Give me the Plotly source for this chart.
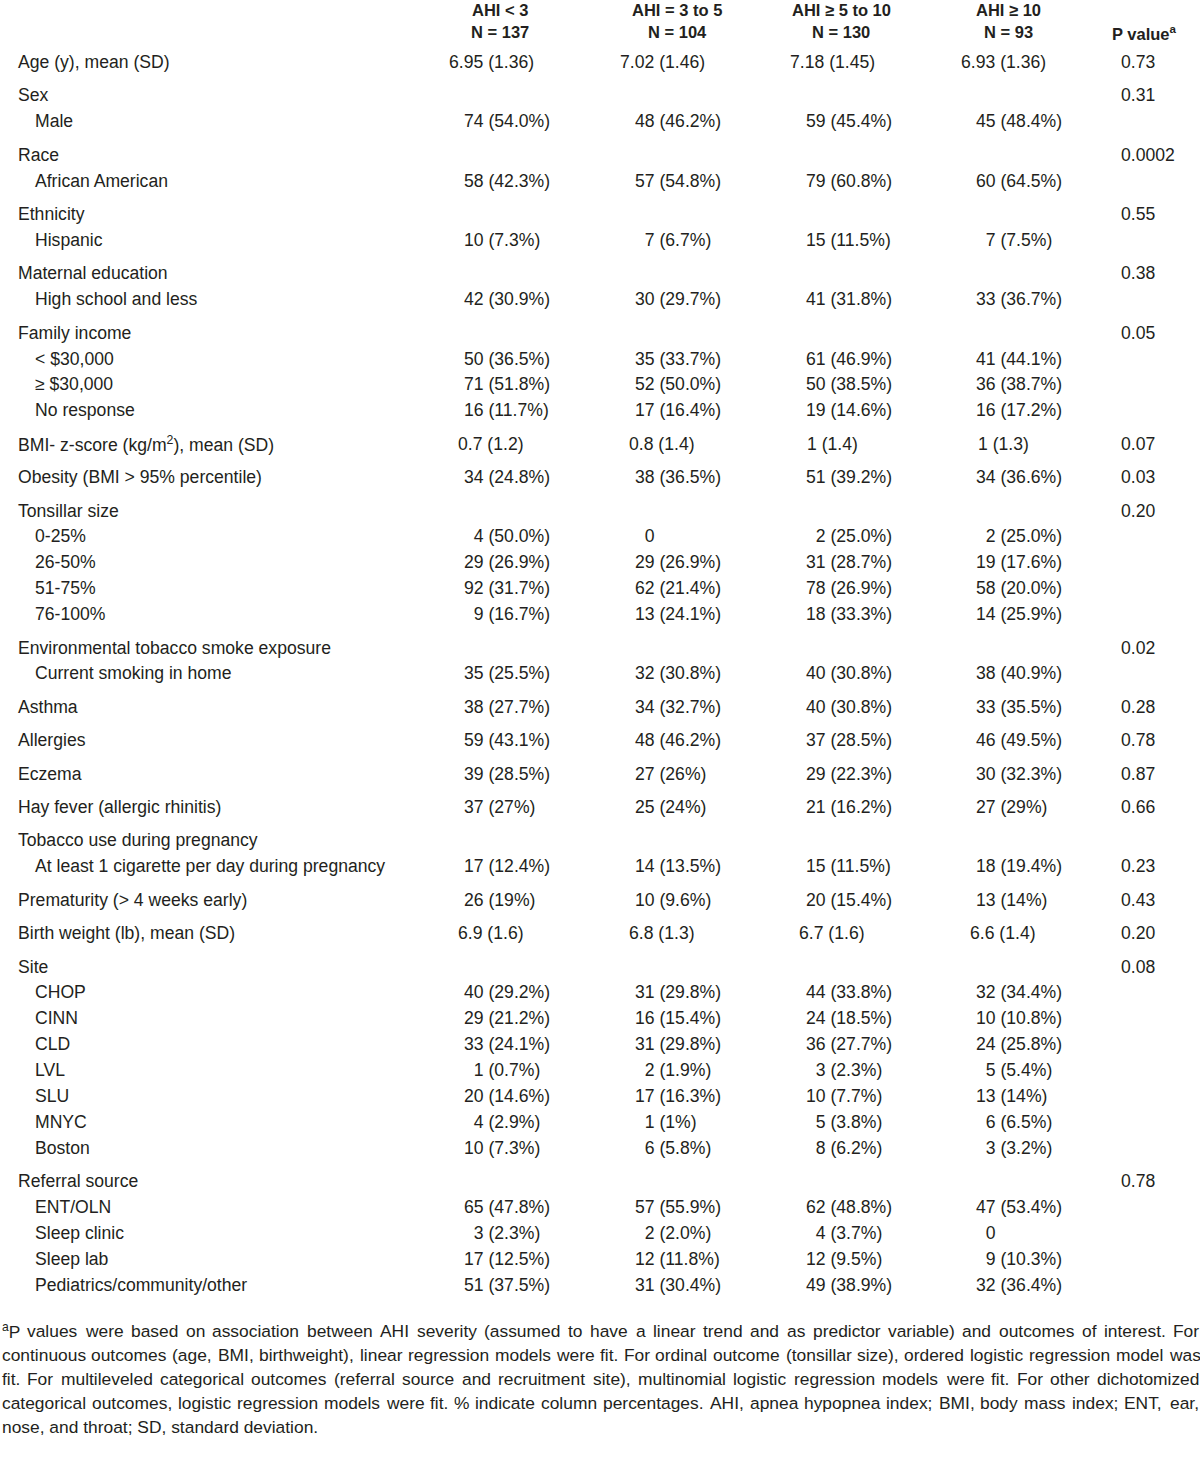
import plotly.graph_objects as go

# ---------------- data ----------------
headers_top = ["AHI < 3", "AHI = 3 to 5", "AHI ≥ 5 to 10", "AHI ≥ 10"]
headers_n = ["N = 137", "N = 104", "N = 130", "N = 93"]
pvalue_header = "P value<sup>a</sup>"

labels = [
    "Age (y), mean (SD)", "Sex", "Male", "Race", "African American",
    "Ethnicity", "Hispanic", "Maternal education", "High school and less",
    "Family income", "< $30,000", "≥ $30,000", "No response",
    "BMI- z-score (kg/m<sup>2</sup>), mean (SD)", "Obesity (BMI > 95% percentile)",
    "Tonsillar size", "0-25%", "26-50%", "51-75%", "76-100%",
    "Environmental tobacco smoke exposure", "Current smoking in home",
    "Asthma", "Allergies", "Eczema", "Hay fever (allergic rhinitis)",
    "Tobacco use during pregnancy", "At least 1 cigarette per day during pregnancy",
    "Prematurity (> 4 weeks early)", "Birth weight (lb), mean (SD)",
    "Site", "CHOP", "CINN", "CLD", "LVL", "SLU", "MNYC", "Boston",
    "Referral source", "ENT/OLN", "Sleep clinic", "Sleep lab",
    "Pediatrics/community/other",
]
level = [0, 0, 1, 0, 1, 0, 1, 0, 1, 0, 1, 1, 1, 0, 0, 0, 1, 1, 1, 1, 0, 1,
         0, 0, 0, 0, 0, 1, 0, 0, 0, 1, 1, 1, 1, 1, 1, 1, 0, 1, 1, 1, 1]
is_mean = [True] + [False] * 12 + [True] + [False] * 15 + [True] + [False] * 13

ahi_lt3 = ["6.95 (1.36)", "", "74 (54.0%)", "", "58 (42.3%)", "", "10 (7.3%)", "",
           "42 (30.9%)", "", "50 (36.5%)", "71 (51.8%)", "16 (11.7%)", "0.7 (1.2)",
           "34 (24.8%)", "", "4 (50.0%)", "29 (26.9%)", "92 (31.7%)", "9 (16.7%)", "",
           "35 (25.5%)", "38 (27.7%)", "59 (43.1%)", "39 (28.5%)", "37 (27%)", "",
           "17 (12.4%)", "26 (19%)", "6.9 (1.6)", "", "40 (29.2%)", "29 (21.2%)",
           "33 (24.1%)", "1 (0.7%)", "20 (14.6%)", "4 (2.9%)", "10 (7.3%)", "",
           "65 (47.8%)", "3 (2.3%)", "17 (12.5%)", "51 (37.5%)"]
ahi_3to5 = ["7.02 (1.46)", "", "48 (46.2%)", "", "57 (54.8%)", "", "7 (6.7%)", "",
            "30 (29.7%)", "", "35 (33.7%)", "52 (50.0%)", "17 (16.4%)", "0.8 (1.4)",
            "38 (36.5%)", "", "0", "29 (26.9%)", "62 (21.4%)", "13 (24.1%)", "",
            "32 (30.8%)", "34 (32.7%)", "48 (46.2%)", "27 (26%)", "25 (24%)", "",
            "14 (13.5%)", "10 (9.6%)", "6.8 (1.3)", "", "31 (29.8%)", "16 (15.4%)",
            "31 (29.8%)", "2 (1.9%)", "17 (16.3%)", "1 (1%)", "6 (5.8%)", "",
            "57 (55.9%)", "2 (2.0%)", "12 (11.8%)", "31 (30.4%)"]
ahi_5to10 = ["7.18 (1.45)", "", "59 (45.4%)", "", "79 (60.8%)", "", "15 (11.5%)", "",
             "41 (31.8%)", "", "61 (46.9%)", "50 (38.5%)", "19 (14.6%)", "1 (1.4)",
             "51 (39.2%)", "", "2 (25.0%)", "31 (28.7%)", "78 (26.9%)", "18 (33.3%)", "",
             "40 (30.8%)", "40 (30.8%)", "37 (28.5%)", "29 (22.3%)", "21 (16.2%)", "",
             "15 (11.5%)", "20 (15.4%)", "6.7 (1.6)", "", "44 (33.8%)", "24 (18.5%)",
             "36 (27.7%)", "3 (2.3%)", "10 (7.7%)", "5 (3.8%)", "8 (6.2%)", "",
             "62 (48.8%)", "4 (3.7%)", "12 (9.5%)", "49 (38.9%)"]
ahi_ge10 = ["6.93 (1.36)", "", "45 (48.4%)", "", "60 (64.5%)", "", "7 (7.5%)", "",
            "33 (36.7%)", "", "41 (44.1%)", "36 (38.7%)", "16 (17.2%)", "1 (1.3)",
            "34 (36.6%)", "", "2 (25.0%)", "19 (17.6%)", "58 (20.0%)", "14 (25.9%)", "",
            "38 (40.9%)", "33 (35.5%)", "46 (49.5%)", "30 (32.3%)", "27 (29%)", "",
            "18 (19.4%)", "13 (14%)", "6.6 (1.4)", "", "32 (34.4%)", "10 (10.8%)",
            "24 (25.8%)", "5 (5.4%)", "13 (14%)", "6 (6.5%)", "3 (3.2%)", "",
            "47 (53.4%)", "0", "9 (10.3%)", "32 (36.4%)"]
p_values = ["0.73", "0.31", "", "0.0002", "", "0.55", "", "0.38", "", "0.05", "", "", "",
            "0.07", "0.03", "0.20", "", "", "", "", "0.02", "", "0.28", "0.78", "0.87",
            "0.66", "", "0.23", "0.43", "0.20", "0.08", "", "", "", "", "", "", "", "0.78",
            "", "", "", ""]

footnote_lines = [
    "<sup>a</sup>P values were based on association between AHI severity (assumed to have a linear trend and as predictor variable) and outcomes of interest. For",
    "continuous outcomes (age, BMI, birthweight), linear regression models were fit. For ordinal outcome (tonsillar size), ordered logistic regression model was",
    "fit. For multileveled categorical outcomes (referral source and recruitment site), multinomial logistic regression models were fit. For other dichotomized",
    "categorical outcomes, logistic regression models were fit. % indicate column percentages. AHI, apnea hypopnea index; BMI, body mass index; ENT, ear,",
    "nose, and throat; SD, standard deviation.",
]

# ---------------- layout ----------------
W, H = 1200, 1457
FONT = "Liberation Sans Narrow, Arial Narrow, Liberation Sans, Arial, sans-serif"
COLOR = "#231f20"
FS = 17.6
FS_HEAD = 16.5
FS_NOTE = 17.4

col_left = [463, 634, 805, 975]
col_center = [491, 662, 832, 1003]
head_center = [500, 677, 841, 1008]
p_left = 1120
p_head_center = 1144

y_first = 62
step_sub = 25.9
step_group = 33.4

ys = []
y = y_first
for i, lv in enumerate(level):
    if i > 0:
        y += step_group if lv == 0 else step_sub
    ys.append(y)

ann = []


def add(text, x, y, xanchor="left", bold=False, size=FS):
    ann.append(dict(
        text=f"<b>{text}</b>" if bold else text, x=x, y=y, xref="x", yref="y",
        xanchor=xanchor, yanchor="middle", showarrow=False, borderpad=0,
        font=dict(family=FONT, size=size, color=COLOR),
    ))


for i in range(4):
    add(headers_top[i], head_center[i], 10, "center", bold=True, size=FS_HEAD)
    add(headers_n[i], head_center[i], 32, "center", bold=True, size=FS_HEAD)
add(pvalue_header, p_head_center, 33, "center", bold=True, size=FS_HEAD)


def pad(s):
    # keep single-digit counts aligned with two-digit counts (figure space)
    head = s.split(" ")[0]
    if len(head) == 1:
        return "\u2007" + s
    return s


columns = [ahi_lt3, ahi_3to5, ahi_5to10, ahi_ge10]
for r, lab in enumerate(labels):
    yy = ys[r]
    add(lab, 17 if level[r] == 0 else 34, yy)
    for c, col in enumerate(columns):
        v = col[r]
        if not v:
            continue
        if is_mean[r]:
            add(v, col_center[c], yy, "center")
        else:
            add(pad(v), col_left[c], yy, "left")
    if p_values[r]:
        add(p_values[r], p_left, yy, "left")

# ---- justified footnote (Arial / Liberation Sans advance widths, per 1000 em)
_w = {" ": 278, "(": 333, ")": 333, ",": 278, "-": 333, ".": 278, "/": 278,
      ";": 278, "%": 889, ":": 278}
for ch in "0123456789":
    _w[ch] = 556
for ch, v in zip("ABCDEFGHIJKLMNOPQRSTUVWXYZ",
                 [667, 667, 722, 722, 667, 611, 778, 722, 278, 500, 667, 556, 833,
                  722, 778, 667, 778, 722, 667, 611, 722, 667, 944, 667, 667, 611]):
    _w[ch] = v
for ch, v in zip("abcdefghijklmnopqrstuvwxyz",
                 [556, 556, 500, 556, 556, 278, 556, 556, 222, 222, 500, 222, 833,
                  556, 556, 556, 556, 333, 500, 278, 556, 500, 722, 500, 500, 500]):
    _w[ch] = v


def text_width(word, size):
    total = 0.0
    sup = False
    i = 0
    while i < len(word):
        if word.startswith("<sup>", i):
            sup = True
            i += 5
            continue
        if word.startswith("</sup>", i):
            sup = False
            i += 6
            continue
        total += _w.get(word[i], 556) * (0.7 if sup else 1.0)
        i += 1
    return total * size / 1000.0


note_left, note_right = 0.5, 1198.5
fy = ys[-1] + 46
for k, line in enumerate(footnote_lines):
    yy = fy + k * 24
    if k == len(footnote_lines) - 1:
        add(line, note_left, yy, "left", size=FS_NOTE)
        continue
    words = line.split(" ")
    widths = [text_width(wd, FS_NOTE) for wd in words]
    gap = (note_right - note_left - sum(widths)) / (len(words) - 1)
    x = note_left
    for wd, wdt in zip(words, widths):
        add(wd, x, yy, "left", size=FS_NOTE)
        x += wdt + gap

fig = go.Figure()
fig.update_layout(
    width=W, height=H, margin=dict(l=0, r=0, t=0, b=0),
    paper_bgcolor="white", plot_bgcolor="white",
    xaxis=dict(range=[0, W], visible=False, fixedrange=True),
    yaxis=dict(range=[H, 0], visible=False, fixedrange=True),
    annotations=ann, showlegend=False,
)
fig.write_html(
    "out.html",
    config={"displayModeBar": False},
    post_script="document.body.style.margin='0';document.body.style.overflow='hidden';",
)
